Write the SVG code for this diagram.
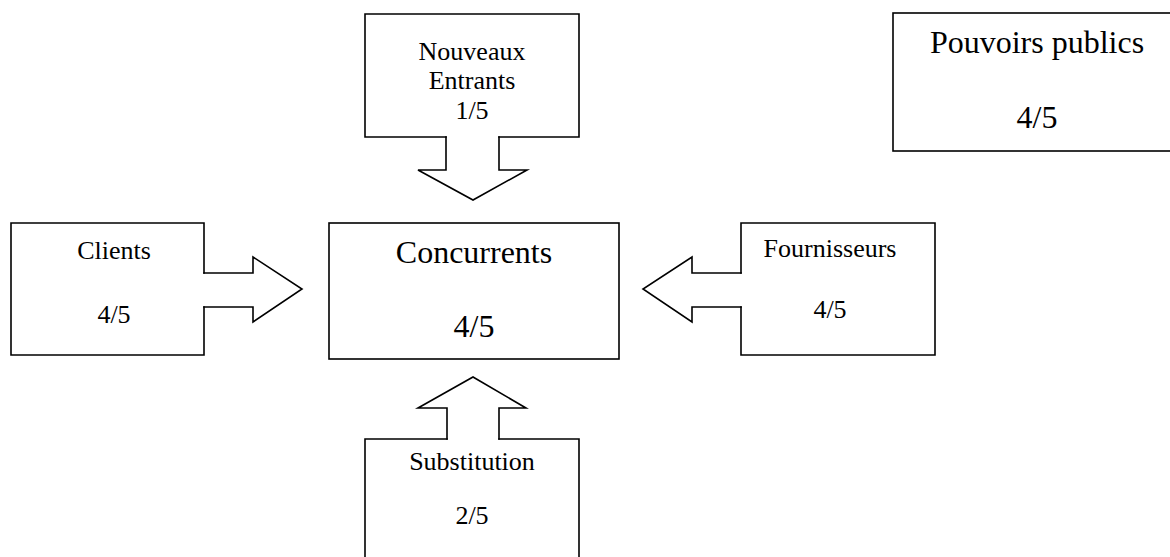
<svg xmlns="http://www.w3.org/2000/svg" width="1170" height="557" viewBox="0 0 1170 557">
  <style>
    .shape { fill: none; stroke: #000; stroke-width: 1.6; stroke-linejoin: miter; stroke-linecap: square; }
    .lbl { font-family: "Liberation Serif", "Times New Roman", serif; font-size: 26px; fill: #000; text-anchor: middle; }
    .big { font-size: 32px; }
  </style>
  <rect width="1170" height="557" fill="#fff"/>

  <!-- forces pushing on the central competitors box -->
  <g id="connectors">
    <path class="shape" d="M446,137 V170 H418 L473,200 L527,170 H499 V137"/>
    <path class="shape" d="M204,273 H253 V257 L302,289 L253,322 V307 H204"/>
    <path class="shape" d="M741,273 H692 V257 L643,289 L692,322 V307 H741"/>
    <path class="shape" d="M447,439 V408 H418 L473,377 L526,408 H499 V439"/>
  </g>

  <g id="nouveaux-entrants">
    <path class="shape" d="M446,137 H365 V14 H579 V137 H499"/>
    <text class="lbl" x="472" y="60">Nouveaux</text>
    <text class="lbl" x="472" y="89">Entrants</text>
    <text class="lbl" x="472" y="119">1/5</text>
  </g>

  <g id="clients">
    <path class="shape" d="M204,273 V223 H11 V355 H204 V307"/>
    <text class="lbl" x="114" y="259">Clients</text>
    <text class="lbl" x="114" y="323">4/5</text>
  </g>

  <g id="concurrents">
    <rect class="shape" x="329" y="223" width="290" height="136"/>
    <text class="lbl big" x="474" y="263">Concurrents</text>
    <text class="lbl big" x="474" y="337">4/5</text>
  </g>

  <g id="fournisseurs">
    <path class="shape" d="M741,273 V223 H935 V355 H741 V307"/>
    <text class="lbl" x="830" y="257">Fournisseurs</text>
    <text class="lbl" x="830" y="318">4/5</text>
  </g>

  <g id="substitution">
    <path class="shape" d="M447,439 H365 V565 M499,439 H579 V565"/>
    <text class="lbl" x="472" y="470">Substitution</text>
    <text class="lbl" x="472" y="524">2/5</text>
  </g>

  <g id="pouvoirs-publics">
    <rect class="shape" x="893" y="13" width="290" height="138"/>
    <text class="lbl big" x="1037" y="53">Pouvoirs publics</text>
    <text class="lbl big" x="1037" y="128">4/5</text>
  </g>
</svg>
